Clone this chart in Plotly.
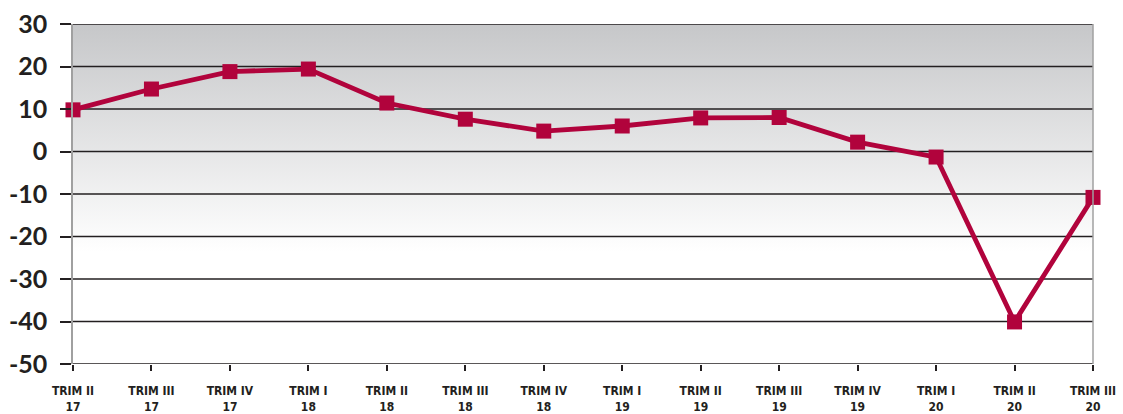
import plotly.graph_objects as go

categories = ["TRIM II<br>17", "TRIM III<br>17", "TRIM IV<br>17", "TRIM I<br>18",
              "TRIM II<br>18", "TRIM III<br>18", "TRIM IV<br>18", "TRIM I<br>19",
              "TRIM II<br>19", "TRIM III<br>19", "TRIM IV<br>19", "TRIM I<br>20",
              "TRIM II<br>20", "TRIM III<br>20"]
values = [9.8, 14.7, 18.8, 19.4, 11.4, 7.6, 4.8, 6.0, 7.9, 8.0, 2.2, -1.3, -40.1, -10.8]
y_ticks = [30, 20, 10, 0, -10, -20, -30, -40, -50]

xs = list(range(len(categories)))
ymin, ymax = -50, 30

fig = go.Figure()
# gradient background
fig.add_trace(go.Scatter(
    x=[xs[0], xs[-1], xs[-1], xs[0], xs[0]],
    y=[ymin, ymin, ymax, ymax, ymin],
    mode="none", fill="toself",
    fillgradient=dict(type="vertical", start=ymin, stop=ymax,
                      colorscale=[[0, "#ffffff"], [0.33, "#ffffff"], [1, "#c6c7c9"]]),
    hoverinfo="skip", showlegend=False,
))
# horizontal grid lines drawn over the gradient
gx, gy = [], []
for v in y_ticks:
    gx += [xs[0], xs[-1], None]
    gy += [v, v, None]
fig.add_trace(go.Scatter(
    x=gx, y=gy, mode="lines", line=dict(color="#231f20", width=1.6),
    hoverinfo="skip", showlegend=False, cliponaxis=False,
))
fig.add_trace(go.Scatter(
    x=xs, y=values, mode="lines+markers",
    line=dict(color="#b1033c", width=4.8),
    marker=dict(symbol="square", size=15, color="#b1033c"),
    cliponaxis=False, showlegend=False,
))

fig.update_layout(
    width=1123, height=414,
    margin=dict(l=73, r=30, t=24, b=50, autoexpand=False),
    paper_bgcolor="white", plot_bgcolor="white",
    font=dict(family="Lato, DejaVu Sans", color="#231f20"),
    shapes=[dict(type="line", xref="paper", yref="paper", x0=1, x1=1, y0=0, y1=1,
                 line=dict(color="#a0a0a0", width=1.5), layer="above")],
)
fig.update_xaxes(
    range=[xs[0], xs[-1]], tickvals=xs, ticktext=categories,
    showgrid=False, zeroline=False, showline=False, automargin=False,
    ticks="outside", ticklen=6, tickwidth=1.5, tickcolor="#231f20",
    tickfont=dict(family="DejaVu Sans Condensed, Liberation Sans Narrow, DejaVu Sans", size=12,
                  weight="bold", color="#231f20"),
    tickangle=0, ticklabelstandoff=10,
)
fig.update_yaxes(
    range=[ymin, ymax], tickvals=y_ticks, ticktext=[str(v) for v in y_ticks],
    showgrid=False, zeroline=False, automargin=False,
    showline=True, linecolor="#a0a0a0", linewidth=1.5,
    ticks="outside", ticklen=11, tickwidth=1.5, tickcolor="#231f20",
    tickfont=dict(family="Lato, DejaVu Sans", size=25, weight="bold", color="#231f20"),
    ticklabelstandoff=8,
)

fig.write_html("out.html", config={"displayModeBar": False},
               post_script="document.body.style.margin='0';document.body.style.overflow='hidden';")
